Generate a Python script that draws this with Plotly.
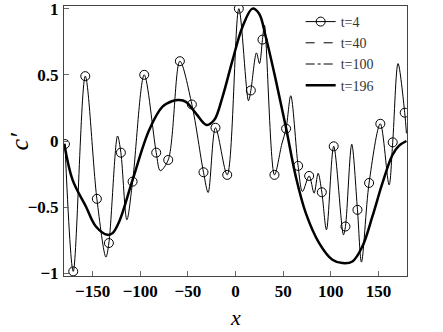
import plotly.graph_objects as go

# t=4 profile: circle-marked samples
marker_x = [-179.0, -170.3, -157.7, -145.5, -132.9, -120.3, -108.0, -95.8, -83.2, -70.6,
            -58.4, -45.8, -33.6, -21.0, -8.7, 3.5, 16.1, 28.3, 40.9, 53.1,
            65.7, 77.3, 90.6, 103.1, 115.4, 128.0, 140.2, 152.0, 165.0, 177.6]
marker_y = [-0.023, -0.985, 0.490, -0.437, -0.771, -0.088, -0.307, 0.500, -0.088, -0.143,
            0.603, 0.276, -0.236, 0.100, -0.256, 1.0, 0.382, 0.766, -0.256, 0.093,
            -0.188, -0.264, -0.387, -0.040, -0.646, -0.520, -0.317, 0.130, -0.010, 0.214]

# t=4 profile: peaks and troughs between the markers
extra_x = [-136.0, -123.8, -114.0, -79.0, -28.7, 13.6, 22.0, 25.2, 30.4, 48.6,
           58.0, 70.3, 82.5, 86.7, 95.5, 113.3, 122.0, 132.2, 161.2, 170.6, 179.4]
extra_y = [-0.877, 0.038, -0.595, -0.224, -0.389, 0.304, 0.666, 0.585, 0.874, -0.023,
           0.342, -0.382, -0.394, -0.244, -0.671, -0.709, -0.025, -0.915, -0.332, 0.585, 0.058]

# t=196 profile
t196_x = [-179.7, -171.0, -157.0, -146.5, -134.3, -129.0, -122.0, -108.0, -90.6, -76.6,
          -66.1, -59.1, -52.1, -41.6, -30.4, -22.4, -13.6, -3.1, 7.3, 17.8,
          24.8, 31.8, 42.3, 52.8, 63.3, 73.8, 87.8, 101.7, 112.2, 122.7,
          133.2, 143.7, 154.2, 164.7, 171.7, 179.4]
t196_y = [-0.02, -0.294, -0.495, -0.646, -0.709, -0.696, -0.608, -0.294, 0.083, 0.259,
          0.302, 0.309, 0.296, 0.209, 0.121, 0.158, 0.334, 0.611, 0.862, 1.0,
          0.962, 0.786, 0.460, 0.108, -0.269, -0.545, -0.771, -0.897, -0.922, -0.910,
          -0.796, -0.570, -0.319, -0.106, -0.035, 0.0]

x_ticks = [-150, -100, -50, 0, 50, 100, 150]
y_ticks = [-1, -0.5, 0, 0.5, 1]

pts = sorted(zip(marker_x + extra_x, marker_y + extra_y))
line_x = [p[0] for p in pts]
line_y = [p[1] for p in pts]

fig = go.Figure()

# legend entries
fig.add_trace(go.Scatter(x=[None], y=[None], name="t=4", mode="lines+markers",
                         line=dict(color="black", width=1),
                         marker=dict(symbol="circle-open", size=9, color="black")))
fig.add_trace(go.Scatter(x=[None], y=[None], name="t=40", mode="lines",
                         line=dict(color="black", width=1, dash="dash")))
fig.add_trace(go.Scatter(x=[None], y=[None], name="t=100", mode="lines",
                         line=dict(color="black", width=1, dash="dashdot")))
fig.add_trace(go.Scatter(x=t196_x, y=t196_y, name="t=196", mode="lines",
                         line=dict(color="black", width=2.5, shape="spline", smoothing=1.0)))

# t=4 curve and its markers
fig.add_trace(go.Scatter(x=line_x, y=line_y, mode="lines", showlegend=False,
                         line=dict(color="black", width=1, shape="spline", smoothing=0.9)))
fig.add_trace(go.Scatter(x=marker_x, y=marker_y, mode="markers", showlegend=False,
                         marker=dict(symbol="circle-open", size=9, color="black",
                                     line=dict(width=1))))

axis_font = dict(family="Liberation Serif", size=17, color="black", weight="bold")
common = dict(ticks="inside", ticklen=5, showgrid=False, zeroline=False,
              showline=True, mirror=True, linecolor="#444", linewidth=1,
              tickcolor="#666", tickfont=axis_font, automargin=False,
              ticklabeloverflow="allow")
fig.update_xaxes(range=[-180, 180], tickvals=x_ticks, ticklabelstandoff=0, **common)
fig.update_yaxes(range=[-1.02, 1.02], tickvals=y_ticks, ticklabelstandoff=1, **common)

# axis titles
fig.add_annotation(text="<i>x</i>", xref="paper", yref="paper", x=0.5, y=-0.1,
                   xanchor="center", yanchor="top", showarrow=False,
                   font=dict(family="Liberation Serif", size=22, color="black"))
fig.add_annotation(text="<i>c′</i>", xref="paper", yref="paper", x=-0.13, y=0.5,
                   xanchor="center", yanchor="middle", showarrow=False, textangle=-90,
                   font=dict(family="Liberation Serif", size=26, color="black"))

fig.update_layout(
    width=443, height=332,
    margin=dict(l=64, r=36, t=6, b=56),
    plot_bgcolor="white", paper_bgcolor="white",
    font=dict(family="Liberation Serif", color="black"),
    legend=dict(x=0.69, y=1.0, xanchor="left", yanchor="top",
                bgcolor="rgba(0,0,0,0)", font=dict(size=14, color="#333"),
                tracegroupgap=0),
)

fig.write_html("out.html", config={"displayModeBar": False},
               post_script="document.body.style.margin='0';")
